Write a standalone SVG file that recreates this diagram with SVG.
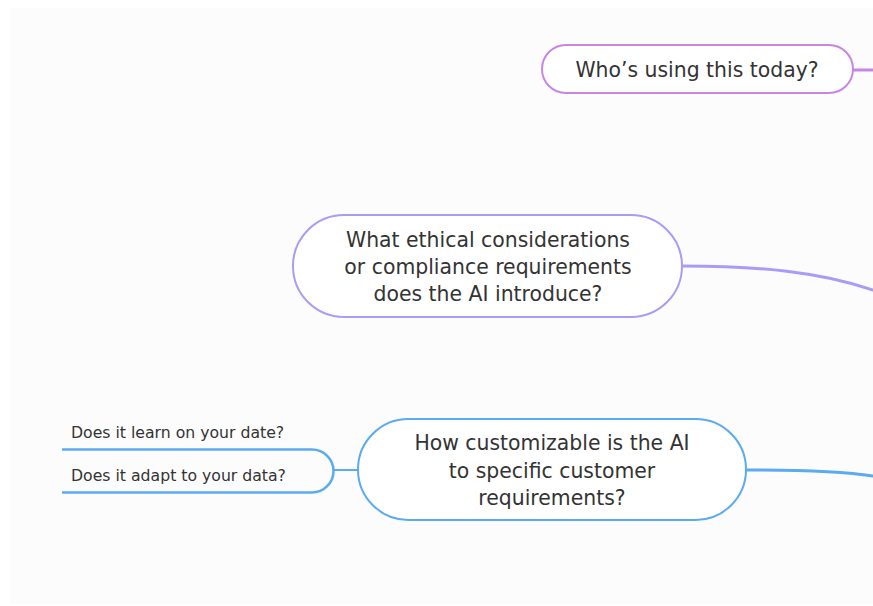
<svg xmlns="http://www.w3.org/2000/svg" width="873" height="606" viewBox="0 0 873 606">
<style>
.bg{fill:#fcfcfc}
.node{fill:#ffffff;stroke-width:2}
.t{font-family:"DejaVu Sans","Open Sans",sans-serif;font-size:20.4px;fill:#333333;text-anchor:middle}
.s{font-family:"DejaVu Sans","Open Sans",sans-serif;font-size:15.7px;fill:#333333}
.c{fill:none;stroke-width:3;stroke-linecap:round}
</style>
<rect x="0" y="0" width="873" height="606" fill="#ffffff"/>
<rect class="bg" x="10" y="8" width="863" height="596"/>
<g id="connectors">
<path class="c" d="M853,70 H873" stroke="#c785e6"/>
<path class="c" d="M682,266 C760,266 820,272 873,290" stroke="#a99cf7"/>
<path class="c" d="M746,470 C800,470 840,471 873,476" stroke="#5caaf2"/>
<path d="M358,470 H334" fill="none" stroke="#5caaf2" stroke-width="2"/>
<path d="M62,449.5 H312 A21.5,21.5 0 0 1 312,492.5 H62" fill="none" stroke="#5caaf2" stroke-width="2.5"/>
</g>
<g id="node-who">
<rect class="node" x="542" y="45" width="311" height="48" rx="24" stroke="#c785e6"/>
<text class="t" x="697" y="77">Who’s using this today?</text>
</g>
<g id="node-ethics">
<rect class="node" x="293" y="215" width="389" height="102" rx="51" stroke="#a99cf7"/>
<text class="t" x="488" y="247">What ethical considerations</text>
<text class="t" x="488" y="274">or compliance requirements</text>
<text class="t" x="488" y="301">does the AI introduce?</text>
</g>
<g id="node-custom">
<rect class="node" x="358" y="419" width="388" height="101" rx="50.5" stroke="#5caaf2"/>
<text class="t" x="552" y="450">How customizable is the AI</text>
<text class="t" x="552" y="478">to specific customer</text>
<text class="t" x="552" y="505">requirements?</text>
</g>
<g id="leaf-learn">
<text class="s" x="71" y="438">Does it learn on your date?</text>
</g>
<g id="leaf-adapt">
<text class="s" x="71" y="481">Does it adapt to your data?</text>
</g>
</svg>
